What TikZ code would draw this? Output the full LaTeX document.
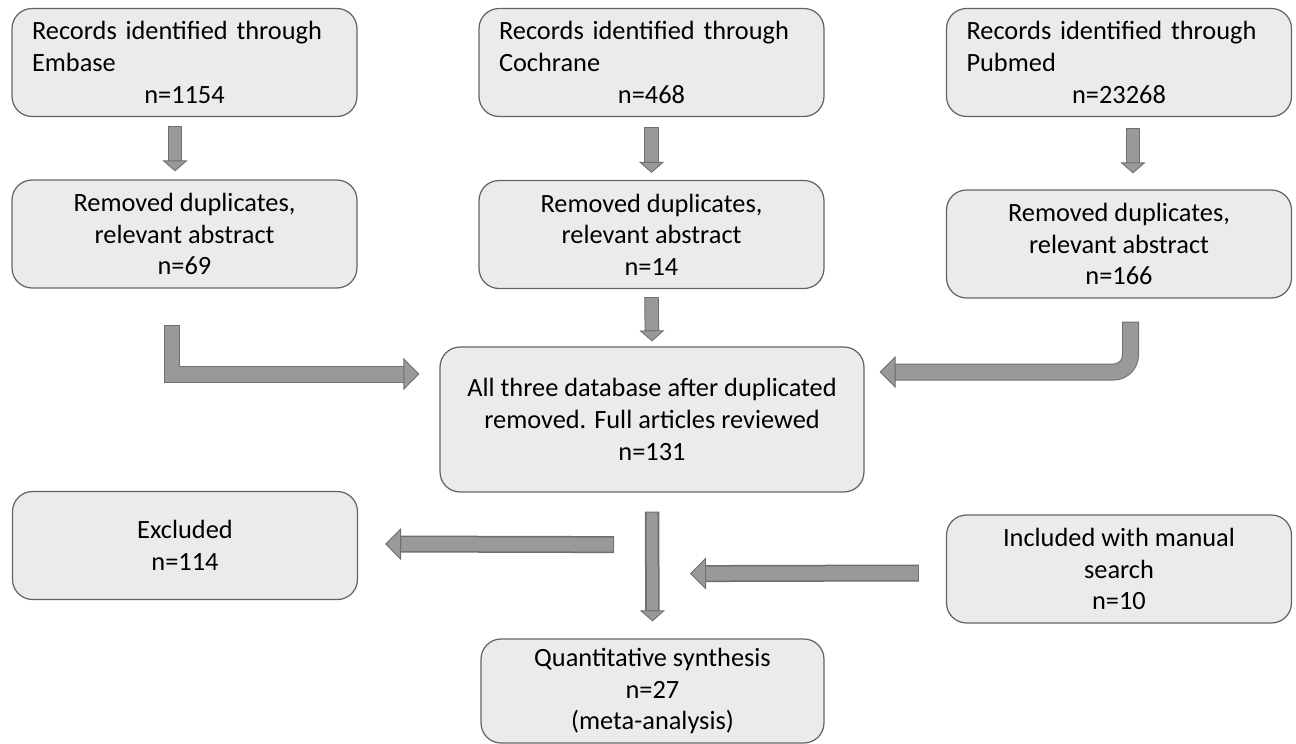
\documentclass[tikz,border=0pt]{standalone}
\usepackage{fontspec}
\setmainfont{Carlito}
\usepackage{xcolor}
\usetikzlibrary{arrows.meta,calc}
\definecolor{boxfill}{HTML}{EBEBEB}
\definecolor{boxedge}{HTML}{646464}
\definecolor{arrowfill}{HTML}{999999}
\definecolor{arrowedge}{HTML}{6E6E6E}
\tikzset{
	box/.style={
			draw=boxedge, line width=0.7pt, fill=boxfill, rounded corners=0.4cm,
			minimum width=6.9cm, minimum height=2.16cm, inner xsep=0.4cm,
			align=center, text=black, font=\fontsize{15}{18}\selectfont
		},
	topbox/.style={box, align=left, text width=6.1cm},
	blk/.style={
			line width=0.3cm, draw=arrowfill,
			preaction={draw=arrowedge, line width=0.34cm, arrows=-, shorten >=0.3cm, shorten <=-0.02cm},
			-{Triangle[width=0.64cm, length=0.32cm, line width=0.5pt, color=arrowedge, fill=arrowfill]}
		},
	blks/.style={
			line width=0.25cm, draw=arrowfill,
			preaction={draw=arrowedge, line width=0.29cm, arrows=-, shorten >=0.2cm, shorten <=-0.02cm},
			-{Triangle[width=0.5cm, length=0.22cm, line width=0.5pt, color=arrowedge, fill=arrowfill]}
		}
}

\begin{document}
\begin{tikzpicture}[x=0.02cm, y=-0.02cm]
	\useasboundingbox (0,0) rectangle (1296,744);

	% Define the search records
	\node[topbox] (emb) at (184.5,62.5) {Records identified through\\Embase\\\makebox[\hsize]{n=1154}};
	\node[topbox] (coch) at (651.5,62.5) {Records identified through\\Cochrane\\\makebox[\hsize]{n=468}};
	\node[topbox] (pub) at (1119,62.5) {Records identified through\\Pubmed\\\makebox[\hsize]{n=23268}};

	% Screened records
	\node[box] (remEmb) at (184.5,234) {Removed duplicates,\\relevant abstract\\n=69};
	\node[box] (remCoch) at (651.5,234.5) {Removed duplicates,\\relevant abstract\\n=14};
	\node[box] (remPub) at (1119,244) {Removed duplicates,\\relevant abstract\\n=166};

	% Full articles and outcome
	\node[box, minimum width=8.48cm, minimum height=2.9cm] (all) at (652,419.5) {All three database after duplicated\\removed. Full articles reviewed\\n=131};
	\node[box] (excl) at (185,545.5) {Excluded\\n=114};
	\node[box] (incl) at (1119,569) {Included with manual\\search\\n=10};
	\node[box, minimum width=6.86cm, minimum height=2.08cm] (quant) at (652.5,691) {Quantitative synthesis\\n=27\\(meta-analysis)};

	% Draw the block arrows
	\draw[blks] ($(emb.south)+(-9.5,10)$) -- ($(remEmb.north)+(-9.5,-8)$);
	\draw[blks] ($(coch.south)+(0,11)$) -- ($(remCoch.north)+(0,-7)$);
	\draw[blks] ($(pub.south)+(14,12)$) -- ($(remPub.north)+(14,-16)$);
	\draw[blks] ($(remCoch.south)+(0,9)$) -- ($(all.north)+(0,-5)$);
	\draw[blk] ($(remEmb.south)+(-12.5,37)$) |- ($(all.west)+(-20,-45.5)$);
	\draw[blk, rounded corners=0.34cm] ($(remPub.south)+(11.5,24)$) |- ($(all.east)+(15,-47.5)$);
	\draw[blk, line width=0.28cm] ($(all.south)+(-39,52)$) -- ($(excl.east)+(27,-1.5)$);
	\draw[blk, line width=0.28cm] ($(incl.west)+(-28,4)$) -- ($(all.south)+(38,81)$);
	\draw[blks, line width=0.22cm] ($(all.south)+(0,20)$) -- ($(quant.north)+(0,-17)$);
\end{tikzpicture}
\end{document}
